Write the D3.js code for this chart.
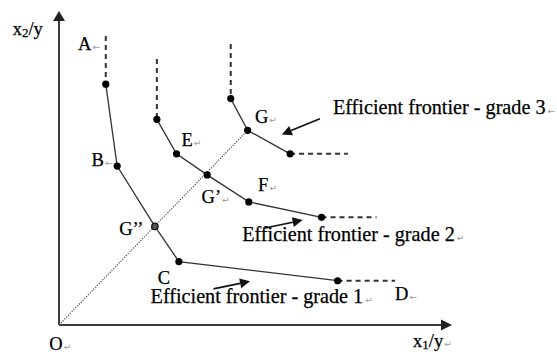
<!DOCTYPE html>
<html>
<head>
<meta charset="utf-8">
<script src="https://cdn.jsdelivr.net/npm/d3@7"></script>
<style>
  body { margin: 0; background: #fff; }
  svg text { font-family: "Liberation Serif", "Times New Roman", serif; fill: #000; stroke: #000; stroke-width: 0.25; }
  svg text tspan.pm { stroke: none; }
</style>
</head>
<body>
<svg id="chart" width="557" height="354"></svg>
<script>
// Input space: x1/y on the horizontal axis, x2/y on the vertical axis (0–100 units).

// Grade 1 frontier vertices
const grade1Names = ["A", "B", "G''", "C", "D"];
const grade1X = [11.9, 14.8, 24.4, 30.5, 70.9];
const grade1Y = [76.7, 50.6, 31.4, 20.2, 14.1];
const grade1Top = 92.0;    // vertical dashed extension above the first vertex
const grade1Right = 85.5;  // horizontal dashed extension after the last vertex

// Grade 2 frontier vertices
const grade2Names = ["", "E", "G'", "F", ""];
const grade2X = [24.9, 29.9, 37.7, 48.3, 66.8];
const grade2Y = [65.5, 54.5, 47.8, 39.2, 34.3];
const grade2Top = 84.7;
const grade2Right = 80.8;

// Grade 3 frontier vertices
const grade3Names = ["", "G", ""];
const grade3X = [43.7, 48.0, 58.8];
const grade3Y = [72.1, 62.0, 54.5];
const grade3Top = 89.5;
const grade3Right = 73.5;

// Ray from the origin through G'', G' and G
const rayEnd = [48.0, 62.0];

const frontierLabels = ["Efficient frontier - grade 1", "Efficient frontier - grade 2", "Efficient frontier - grade 3"];
const axisLabels = ["x1/y", "x2/y", "O"];

const svg = d3.select("#chart");
const x = d3.scaleLinear().domain([0, 100]).range([59, 452]);
const y = d3.scaleLinear().domain([0, 100]).range([325, 11]);

const ink = "#333";
const mark = "\u21B5";

// ---- axes -------------------------------------------------------------
const axisG = svg.append("g");
axisG.append("line")
  .attr("x1", x(0)).attr("y1", y(0)).attr("x2", x(100) - 9).attr("y2", y(0))
  .attr("stroke", "#3c3c3c").attr("stroke-width", 2);
axisG.append("line")
  .attr("x1", x(0)).attr("y1", y(0)).attr("x2", x(0)).attr("y2", y(100) + 8)
  .attr("stroke", "#3c3c3c").attr("stroke-width", 2);
// arrowheads
axisG.append("path")
  .attr("d", `M${x(100)},${y(0)} L${x(100) - 11},${y(0) - 5.5} L${x(100) - 11},${y(0) + 5.5} Z`)
  .attr("fill", "#222");
axisG.append("path")
  .attr("d", `M${x(0)},${y(100)} L${x(0) - 6},${y(100) + 10} L${x(0) + 6},${y(100) + 10} Z`)
  .attr("fill", "#222");

// ---- dotted ray ------------------------------------------------------
svg.append("line")
  .attr("x1", x(0)).attr("y1", y(0))
  .attr("x2", x(rayEnd[0])).attr("y2", y(rayEnd[1]))
  .attr("stroke", "#555").attr("stroke-width", 1.2)
  .attr("stroke-dasharray", "1.3,1.3");

// ---- frontiers -------------------------------------------------------
const frontiers = [
  { names: grade1Names, xs: grade1X, ys: grade1Y, top: grade1Top, right: grade1Right },
  { names: grade2Names, xs: grade2X, ys: grade2Y, top: grade2Top, right: grade2Right },
  { names: grade3Names, xs: grade3X, ys: grade3Y, top: grade3Top, right: grade3Right }
];

const line = d3.line().x(d => x(d[0])).y(d => y(d[1]));

frontiers.forEach(f => {
  const pts = f.xs.map((v, i) => [v, f.ys[i]]);
  const first = pts[0], last = pts[pts.length - 1];
  // vertical dashed extension
  svg.append("path")
    .attr("d", line([[first[0], f.top], first]))
    .attr("stroke", ink).attr("stroke-width", 2).attr("stroke-dasharray", "5,4")
    .attr("fill", "none");
  // horizontal dashed extension
  svg.append("path")
    .attr("d", line([last, [f.right, last[1]]]))
    .attr("stroke", ink).attr("stroke-width", 2).attr("stroke-dasharray", "5,4")
    .attr("fill", "none");
  // solid frontier
  svg.append("path")
    .attr("d", line(pts))
    .attr("stroke", ink).attr("stroke-width", 1.3).attr("fill", "none");
  // vertices
  svg.selectAll(null).data(pts.map((p, i) => ({ p, name: f.names[i] })))
    .enter().append("circle")
    .attr("cx", d => x(d.p[0])).attr("cy", d => y(d.p[1]))
    .attr("r", d => d.name === "G''" ? 3.2 : 3.6)
    .attr("fill", d => d.name === "G''" ? "#555" : "#000")
    .attr("stroke", d => d.name === "G''" ? "#000" : "none")
    .attr("stroke-width", 1.2);
});

// ---- point labels ----------------------------------------------------
// offsets in pixels from each labelled vertex (or dashed end for A and D)
const labelOffsets = {
  "A":   { at: () => [x(grade1X[0]), y(grade1Top)], dx: -27.7, dy: 13.5, m: "\u2190" },
  "B":   { at: () => [x(grade1X[1]), y(grade1Y[1])], dx: -25.6, dy: 0, m: "\u2190" },
  "G''": { at: () => [x(grade1X[2]), y(grade1Y[2])], dx: -35.7, dy: 8.3, m: "" },
  "C":   { at: () => [x(grade1X[3]), y(grade1Y[3])], dx: -21, dy: 22.6, m: "" },
  "D":   { at: () => [x(grade1Right), y(grade1Y[4])], dx: 0, dy: 19.7, m: "\u2190" },
  "E":   { at: () => [x(grade2X[1]), y(grade2Y[1])], dx: 5, dy: -7.6, m: mark },
  "G'":  { at: () => [x(grade2X[2]), y(grade2Y[2])], dx: -5.6, dy: 28, m: mark },
  "F":   { at: () => [x(grade2X[3]), y(grade2Y[3])], dx: 9.3, dy: -10.6, m: mark },
  "G":   { at: () => [x(grade3X[1]), y(grade3Y[1])], dx: 7.3, dy: -7.7, m: mark }
};

function paraMark(t, ch, dx) {
  t.append("tspan").attr("class", "pm").attr("font-size", 9).attr("dx", dx)
    .style("fill", "#999").style("font-family", "DejaVu Sans")
    .attr("letter-spacing", 0).text(ch);
}

Object.entries(labelOffsets).forEach(([name, o]) => {
  const [px, py] = o.at();
  const t = svg.append("text")
    .attr("x", px + o.dx).attr("y", py + o.dy)
    .attr("font-size", 18.5);
  t.append("tspan").text(name.replace(/'/g, "\u2019"));
  if (o.m) paraMark(t, o.m, 1);
});

// ---- frontier captions with pointer arrows ----------------------------
const captions = [
  { text: frontierLabels[0], at: [23.3, 6.9], from: [39.3, 11.5], to: [48.6, 13.9], m: mark },
  { text: frontierLabels[1], at: [46.6, 26.7], from: [52.4, 30.9], to: [62.0, 33.4], m: mark },
  { text: frontierLabels[2], at: [69.7, 67.3], from: [66.4, 65.7], to: [56.7, 60.7], m: "\u2190" }
];

captions.forEach(c => {
  const t = svg.append("text")
    .attr("x", x(c.at[0])).attr("y", y(c.at[1]))
    .attr("font-size", 20.2);
  t.append("tspan").text(c.text);
  paraMark(t, c.m, 2);

  const x1 = x(c.from[0]), y1 = y(c.from[1]);
  const x2 = x(c.to[0]), y2 = y(c.to[1]);
  const ang = Math.atan2(y2 - y1, x2 - x1);
  const len = 10, half = 5;
  const bx = x2 - len * Math.cos(ang), by = y2 - len * Math.sin(ang);
  svg.append("line")
    .attr("x1", x1).attr("y1", y1).attr("x2", bx).attr("y2", by)
    .attr("stroke", "#111").attr("stroke-width", 1.6);
  svg.append("path")
    .attr("d", `M${x2},${y2} L${bx + half * Math.sin(ang)},${by - half * Math.cos(ang)} L${bx - half * Math.sin(ang)},${by + half * Math.cos(ang)} Z`)
    .attr("fill", "#111");
});

// ---- axis labels -----------------------------------------------------
function axisLabel(str, px, py, markChar) {
  const t = svg.append("text").attr("x", px).attr("y", py).attr("font-size", 18.5);
  t.append("tspan").text(str.slice(0, 1));
  if (str.length > 1) {
    t.append("tspan").attr("font-size", 13).attr("dy", 2).text(str.slice(1, 2));
    t.append("tspan").attr("dy", -2).text(str.slice(2));
  }
  if (markChar) paraMark(t, markChar, 1);
}
axisLabel(axisLabels[0], x(100) - 39, y(0) + 22, mark);
axisLabel(axisLabels[1], x(0) - 46.3, y(100) + 24, "");
axisLabel(axisLabels[2], x(0) - 9.7, y(0) + 24.5, mark);
</script>
</body>
</html>
